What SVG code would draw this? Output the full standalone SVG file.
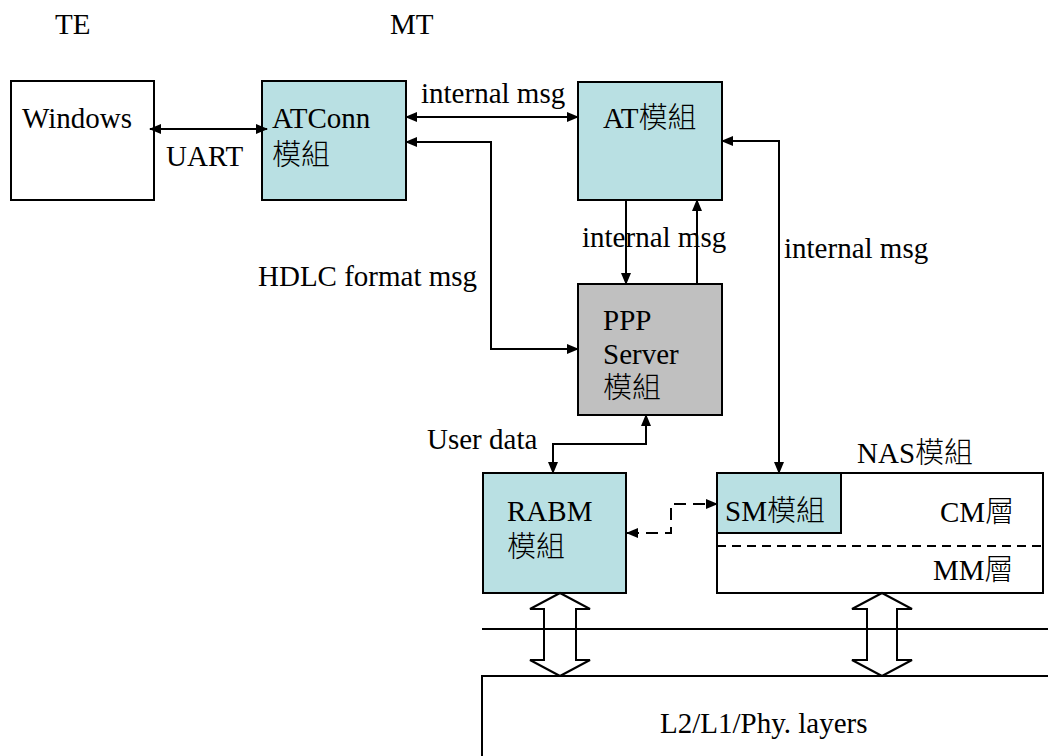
<svg xmlns="http://www.w3.org/2000/svg" width="1048" height="756" viewBox="0 0 1048 756">
<style>
  text { font-family: "Liberation Serif", "Noto Sans CJK TC", serif; font-size: 29px; font-weight: 300; fill: #000; }
  .box { stroke: #000; stroke-width: 2; }
  .teal { fill: #b9e0e3; }
  .white { fill: #fff; }
  .gray { fill: #c0c0c0; }
  .conn { fill: none; stroke: #000; stroke-width: 2; }
  .dash { stroke-dasharray: 12 7; }
  .blk { fill: #fff; stroke: #000; stroke-width: 2; }
</style>
<defs>
  <marker id="ah" markerUnits="userSpaceOnUse" markerWidth="12" markerHeight="10" refX="11" refY="5" orient="auto-start-reverse">
    <path d="M0,0 L12,5 L0,10 z" fill="#000"/>
  </marker>
</defs>

<g id="labels-top">
  <text x="55" y="34">TE</text>
  <text x="390" y="34">MT</text>
</g>

<g id="windows">
  <rect class="box white" x="11" y="81" width="143" height="119"/>
  <text x="22" y="128">Windows</text>
</g>

<g id="atconn">
  <rect class="box teal" x="262" y="81" width="144" height="119"/>
  <text x="272" y="128">ATConn</text>
  <text x="272" y="165">模組</text>
</g>

<g id="at">
  <rect class="box teal" x="578" y="82" width="144" height="118"/>
  <text x="603" y="128">AT模組</text>
</g>

<g id="ppp">
  <rect class="box gray" x="578" y="284" width="144" height="131"/>
  <text x="603" y="330">PPP</text>
  <text x="603" y="364">Server</text>
  <text x="603" y="398">模組</text>
</g>

<g id="rabm">
  <rect class="box teal" x="483" y="473" width="143" height="120"/>
  <text x="507" y="521">RABM</text>
  <text x="507" y="557">模組</text>
</g>

<g id="nas">
  <rect class="box white" x="717" y="473" width="326" height="120"/>
  <line x1="717" y1="546" x2="1043" y2="546" stroke="#000" stroke-width="2" stroke-dasharray="9 6"/>
  <text x="857" y="463">NAS模組</text>
  <text x="940" y="522">CM層</text>
  <text x="933" y="580">MM層</text>
</g>

<g id="sm">
  <rect class="box teal" x="717" y="473" width="124" height="60"/>
  <text x="725" y="521">SM模組</text>
</g>

<g id="layers">
  <polygon class="blk" points="560,593 590,609 576,609 576,660 590,660 560,676 530,660 544,660 544,609 530,609"/>
  <polygon class="blk" points="882,593 912,609 897,609 897,660 912,660 882,676 852,660 867,660 867,609 852,609"/>
  <line x1="482" y1="629" x2="1048" y2="629" stroke="#000" stroke-width="2"/>
  <rect class="box white" x="482" y="676" width="600" height="120"/>
  <text x="660" y="733">L2/L1/Phy. layers</text>
</g>

<g id="connectors">
  <line class="conn" x1="150" y1="129" x2="267" y2="129" marker-start="url(#ah)" marker-end="url(#ah)"/>
  <line class="conn" x1="406" y1="117" x2="578" y2="117" marker-start="url(#ah)" marker-end="url(#ah)"/>
  <polyline class="conn" points="406,142 491,142 491,349 578,349" marker-start="url(#ah)" marker-end="url(#ah)"/>
  <line class="conn" x1="626" y1="200" x2="626" y2="284" marker-end="url(#ah)"/>
  <line class="conn" x1="697" y1="284" x2="697" y2="200" marker-end="url(#ah)"/>
  <polyline class="conn" points="722,141 779,141 779,473" marker-start="url(#ah)" marker-end="url(#ah)"/>
  <polyline class="conn" points="646,415 646,444 553,444 553,473" marker-start="url(#ah)" marker-end="url(#ah)"/>
  <polyline class="conn dash" points="627,533 671,533 671,504 717,504" marker-start="url(#ah)" marker-end="url(#ah)"/>
</g>

<g id="connector-labels">
  <text x="166" y="166">UART</text>
  <text x="421" y="103">internal msg</text>
  <text x="582" y="247">internal msg</text>
  <text x="784" y="258">internal msg</text>
  <text x="258" y="286">HDLC format msg</text>
  <text x="427" y="449">User data</text>
</g>
</svg>
